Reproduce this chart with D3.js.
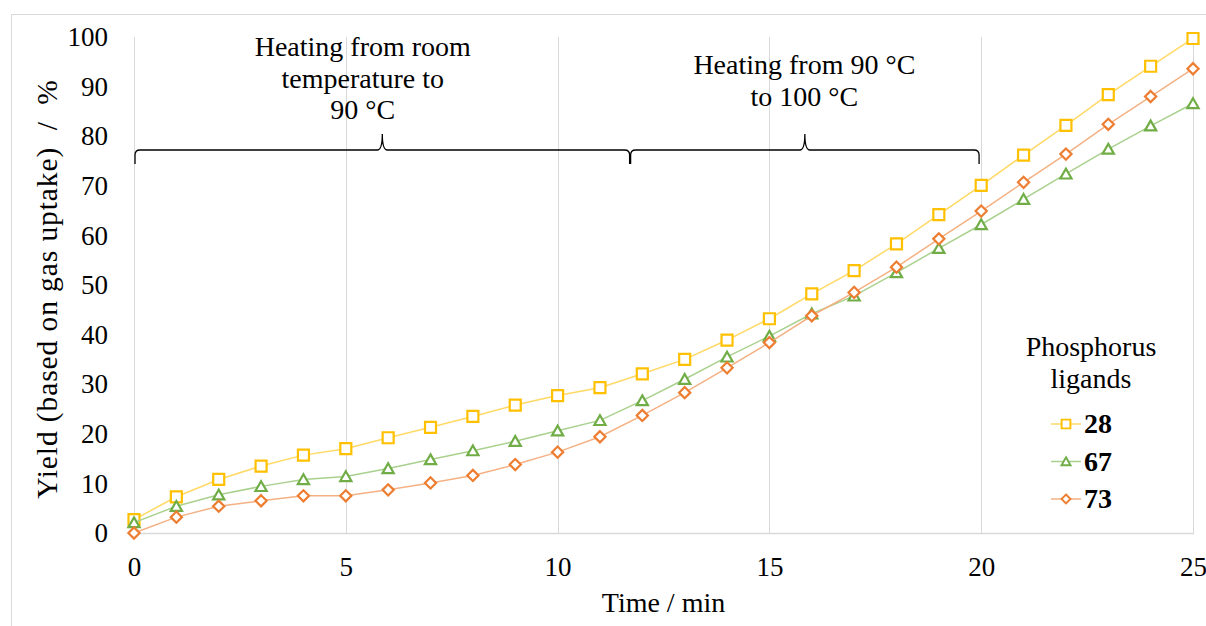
<!DOCTYPE html>
<html>
<head>
<meta charset="utf-8">
<script src="https://cdn.jsdelivr.net/npm/d3@7"></script>
<style>
  html, body { margin: 0; padding: 0; background: #ffffff; }
  svg { display: block; font-family: "Liberation Serif", "Times New Roman", serif; }
</style>
</head>
<body>
<svg id="chart" width="1206" height="626"></svg>
<script>
// Reaction time in minutes
const times = [0, 1, 2, 3, 4, 5, 6, 7, 8, 9, 10, 11, 12, 13, 14, 15, 16, 17, 18, 19, 20, 21, 22, 23, 24, 25];

// Yield (%) for each phosphorus ligand
const ligand28 = [2.7, 7.3, 10.8, 13.5, 15.7, 17.0, 19.2, 21.3, 23.5, 25.8, 27.7, 29.3, 32.1, 35.0, 38.9, 43.2, 48.2, 52.9, 58.3, 64.2, 70.1, 76.2, 82.2, 88.4, 94.1, 99.7];
const ligand67 = [2.1, 5.4, 7.7, 9.4, 10.8, 11.4, 13.0, 14.8, 16.6, 18.5, 20.6, 22.7, 26.7, 31.0, 35.5, 39.7, 44.2, 47.8, 52.5, 57.4, 62.2, 67.3, 72.4, 77.4, 82.1, 86.6];
const ligand73 = [0.0, 3.2, 5.4, 6.5, 7.5, 7.5, 8.7, 10.1, 11.6, 13.8, 16.3, 19.4, 23.7, 28.3, 33.3, 38.4, 43.8, 48.5, 53.6, 59.3, 64.9, 70.7, 76.4, 82.4, 88.0, 93.6];

const seriesNames = ["28", "67", "73"];
const xTicks = [0, 5, 10, 15, 20, 25];
const yTicks = [0, 10, 20, 30, 40, 50, 60, 70, 80, 90, 100];

// Heating phases (start, end in minutes) with their labels
const phaseBounds = [[0, 11.7], [11.7, 19.95]];
const phaseLabels = [
  ["Heating from room", "temperature to", "90 °C"],
  ["Heating from 90 °C", "to 100 °C"]
];

const styles = [
  { marker: "#FFC000", line: "#FFD966", shape: "square" },
  { marker: "#70AD47", line: "#A9D18E", shape: "triangle" },
  { marker: "#ED7D31", line: "#F4B183", shape: "diamond" }
];

const svg = d3.select("#chart");
const W = 1206, H = 626;
const plot = { left: 134, right: 1193, top: 37, bottom: 533 };
const FONT = 27;

const x = d3.scaleLinear().domain([0, 25]).range([plot.left, plot.right]);
const y = d3.scaleLinear().domain([0, 100]).range([plot.bottom, plot.top]);

// outer chart frame
svg.append("rect")
  .attr("x", 11.5).attr("y", 14.5)
  .attr("width", W).attr("height", H)
  .attr("fill", "#ffffff").attr("stroke", "#d9d9d9").attr("stroke-width", 1);

// vertical gridlines
svg.append("g").selectAll("line").data(xTicks).join("line")
  .attr("x1", d => Math.round(x(d)) + 0.5).attr("x2", d => Math.round(x(d)) + 0.5)
  .attr("y1", plot.top).attr("y2", plot.bottom)
  .attr("stroke", "#d9d9d9").attr("stroke-width", 1);

// bottom axis line
svg.append("line")
  .attr("x1", plot.left).attr("x2", plot.right + 1)
  .attr("y1", plot.bottom + 0.5).attr("y2", plot.bottom + 0.5)
  .attr("stroke", "#d9d9d9").attr("stroke-width", 1.5);

// axes
const yAxis = svg.append("g")
  .attr("transform", `translate(${plot.left},0)`)
  .call(d3.axisLeft(y).tickValues(yTicks).tickSize(0).tickPadding(26));
const xAxis = svg.append("g")
  .attr("transform", `translate(0,${plot.bottom})`)
  .call(d3.axisBottom(x).tickValues(xTicks).tickSize(0).tickPadding(24));
[yAxis, xAxis].forEach(a => {
  a.select(".domain").remove();
  a.selectAll("text")
    .attr("font-family", "Liberation Serif, serif")
    .attr("font-size", FONT)
    .attr("fill", "#000");
});

// axis titles
svg.append("text")
  .attr("x", (plot.left + plot.right) / 2).attr("y", 612)
  .attr("text-anchor", "middle")
  .attr("font-size", 28).attr("fill", "#000")
  .text("Time / min");

svg.append("text")
  .attr("transform", "translate(57,289) rotate(-90)")
  .attr("text-anchor", "middle")
  .attr("font-size", 29.5).attr("letter-spacing", 0.9).attr("fill", "#000")
  .style("white-space", "pre")
  .text("Yield (based on gas uptake)  /  %");

// heating phase braces
const braceY = 150, braceDrop = 14, braceRise = 16;
function bracePath(x0, x1) {
  const xm = (x0 + x1) / 2;
  const r = 5;
  return [
    `M${x0},${braceY + braceDrop}`,
    `L${x0},${braceY + r}`,
    `Q${x0},${braceY} ${x0 + r},${braceY}`,
    `L${xm - r},${braceY}`,
    `Q${xm},${braceY} ${xm},${braceY - braceRise}`,
    `Q${xm},${braceY} ${xm + r},${braceY}`,
    `L${x1 - r},${braceY}`,
    `Q${x1},${braceY} ${x1},${braceY + r}`,
    `L${x1},${braceY + braceDrop}`
  ].join(" ");
}
svg.append("g").selectAll("path").data(phaseBounds).join("path")
  .attr("d", d => bracePath(x(d[0]) + 1, x(d[1])))
  .attr("fill", "none").attr("stroke", "#000").attr("stroke-width", 1.3);

// phase labels
const labelTop = [56, 74];
phaseLabels.forEach((lines, i) => {
  const cx = (x(phaseBounds[i][0]) + x(phaseBounds[i][1])) / 2 - (i === 0 ? 19 : 0);
  const t = svg.append("text")
    .attr("text-anchor", "middle")
    .attr("font-size", 28).attr("fill", "#000");
  lines.forEach((s, k) => {
    t.append("tspan").attr("x", cx).attr("y", labelTop[i] + k * 31.5).text(s);
  });
});

// marker shapes
const shapePath = {
  square: "M-5.5,-5.5H5.5V5.5H-5.5Z",
  triangle: "M0,-5.2L5.6,4.6L-5.6,4.6Z",
  diamond: "M0,-5.6L5.6,0L0,5.6L-5.6,0Z"
};

const allSeries = [ligand28, ligand67, ligand73];
const line = d3.line().x((d, i) => x(times[i])).y(d => y(d));

allSeries.forEach((vals, si) => {
  const st = styles[si];
  const g = svg.append("g");
  g.append("path")
    .attr("d", line(vals))
    .attr("fill", "none")
    .attr("stroke", st.line)
    .attr("stroke-width", 1.5);
  g.selectAll("path.m").data(vals).join("path")
    .attr("class", "m")
    .attr("transform", (d, i) => `translate(${x(times[i])},${y(d)})`)
    .attr("d", shapePath[st.shape])
    .attr("fill", "#ffffff")
    .attr("stroke", st.marker)
    .attr("stroke-width", 2.2);
});

// legend
const legend = svg.append("g");
legend.append("text")
  .attr("text-anchor", "middle").attr("font-size", 28).attr("fill", "#000")
  .selectAll("tspan").data(["Phosphorus", "ligands"]).join("tspan")
  .attr("x", 1091).attr("y", (d, i) => 356 + i * 31.5).text(d => d);

seriesNames.forEach((name, i) => {
  const cy = 424 + i * 37.5;
  const st = styles[i];
  legend.append("line")
    .attr("x1", 1051).attr("x2", 1081).attr("y1", cy).attr("y2", cy)
    .attr("stroke", st.line).attr("stroke-width", 1.5);
  legend.append("path")
    .attr("transform", `translate(1066,${cy}) scale(0.8)`)
    .attr("d", shapePath[st.shape])
    .attr("fill", "#fff").attr("stroke", st.marker).attr("stroke-width", 2.4);
  legend.append("text")
    .attr("x", 1084).attr("y", cy + 9)
    .attr("font-size", 28).attr("font-weight", "bold").attr("fill", "#000")
    .text(name);
});
</script>
</body>
</html>
